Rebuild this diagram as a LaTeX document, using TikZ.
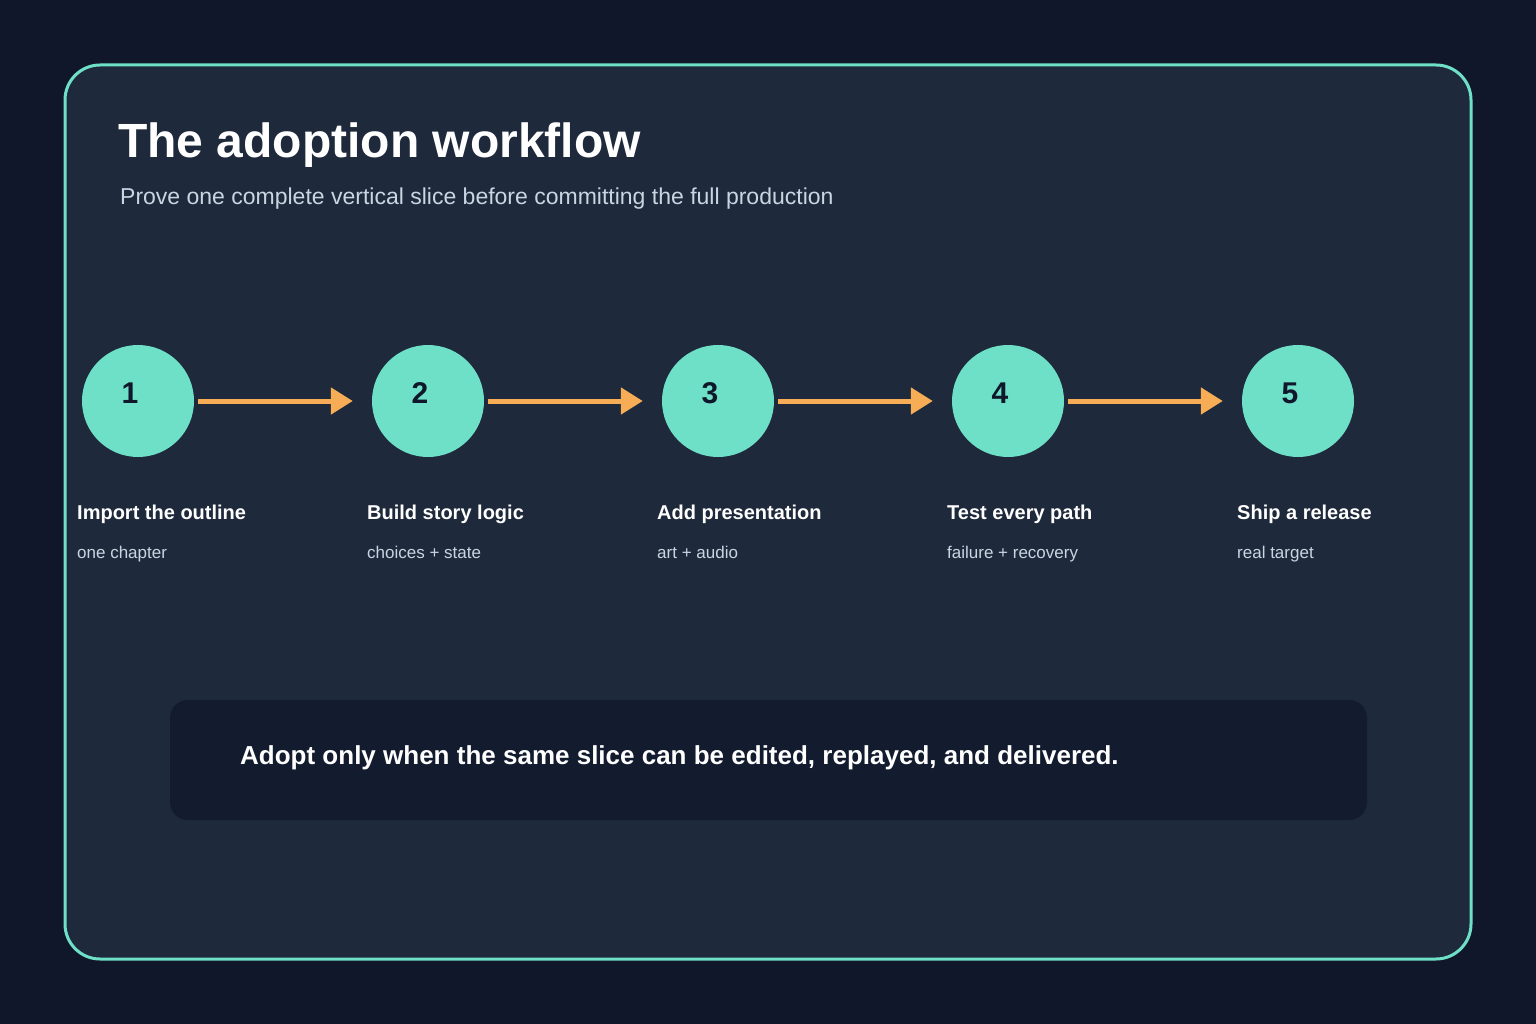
\documentclass[tikz,border=0pt]{standalone}
\usepackage{fontspec}
\setmainfont{Liberation Sans}
\usetikzlibrary{arrows.meta}
\definecolor{bg}{HTML}{10172A}
\definecolor{panel}{HTML}{1E293B}
\definecolor{teal}{HTML}{6EE0C8}
\definecolor{orng}{HTML}{F6AD55}
\definecolor{sub}{HTML}{CBD5E1}
\definecolor{box}{HTML}{131B2E}
\definecolor{dark}{HTML}{0F172A}
\tikzset{
 stepc/.style={circle,fill=teal,minimum size=112pt,inner sep=0},
 num/.style={font=\fontsize{30}{30}\selectfont\bfseries,text=dark},
 lab/.style={anchor=base west,font=\fontsize{20}{20}\selectfont\bfseries,text=white,inner sep=0},
 slab/.style={anchor=base west,font=\fontsize{17}{17}\selectfont,text=sub,inner sep=0},
 arr/.style={draw=orng,line width=5pt,-{Triangle[length=22pt,width=26pt]}}
}
\begin{document}
\begin{tikzpicture}[x=1pt,y=-1pt]
\useasboundingbox (0,0) rectangle (1536,1024);
\fill[bg] (0,0) rectangle (1536,1024);
\draw[teal,fill=panel,line width=3pt,rounded corners=35pt] (65,65) rectangle (1471,959);
\node[anchor=base west,inner sep=0,text=white,font=\fontsize{48}{48}\selectfont\bfseries] (title) at (118,158) {The adoption workflow};
\node[anchor=base west,inner sep=0,text=sub,font=\fontsize{23}{23}\selectfont] (subt) at (120,205) {Prove one complete vertical slice before committing the full production};
\foreach \i/\t/\s in {1/Import the outline/one chapter,2/Build story logic/choices + state,3/Add presentation/art + audio,4/Test every path/failure + recovery,5/Ship a release/real target}{
 \pgfmathsetmacro{\cx}{138+290*(\i-1)}
 \node[stepc] (c\i) at (\cx,401) {};
 \node[num] (n\i) at (\cx-8,393) {\i};
 \node[lab] (l\i) at (\cx-61,519) {\t};
 \node[slab] (s\i) at (\cx-61,558) {\s};
}
\foreach \a/\b in {1/2,2/3,3/4,4/5}{
 \draw[arr] ([xshift=4pt]c\a.east) -- ([xshift=-19pt]c\b.west);
}
\fill[box,rounded corners=18pt] (170,700) rectangle (1367,820);
\node[anchor=base west,inner sep=0,text=white,font=\fontsize{26}{26}\selectfont\bfseries] (msg) at (240,764) {Adopt only when the same slice can be edited, replayed, and delivered.};
\end{tikzpicture}
\end{document}
